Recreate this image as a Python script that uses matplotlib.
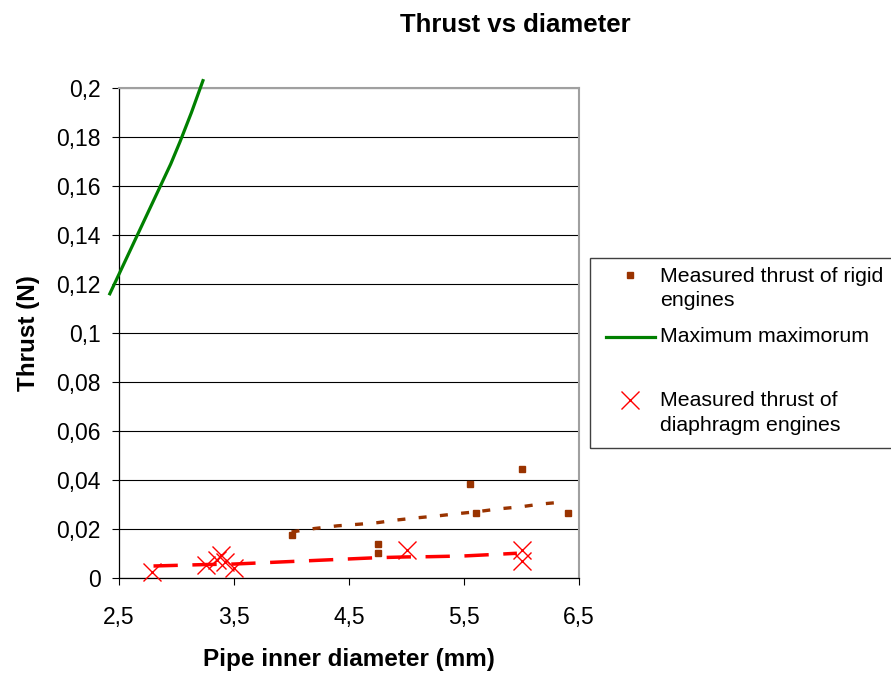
import matplotlib
matplotlib.use("Agg")
import matplotlib.pyplot as plt
from matplotlib.lines import Line2D
from matplotlib.patches import Rectangle
from matplotlib.ticker import FuncFormatter, FixedLocator, MultipleLocator

plt.rcParams["font.family"] = ["Liberation Sans", "DejaVu Sans"]

# ---------- data ----------
rigid_d = [4.0, 4.75, 4.75, 5.55, 5.6, 6.0, 6.4]
rigid_thrust = [0.0175, 0.0139, 0.0101, 0.0382, 0.0264, 0.0444, 0.0264]

rigid_trend_d = [4.0, 4.2, 4.4, 4.6, 4.75, 4.92, 5.1, 5.28, 5.45, 5.62, 5.8, 6.0, 6.17, 6.36]
rigid_trend_thrust = [0.0188, 0.0202, 0.0213, 0.0220, 0.0226, 0.0237, 0.0246,
                      0.0254, 0.0263, 0.0271, 0.0282, 0.0291, 0.0302, 0.0310]

diaphragm_d = [2.79, 3.26, 3.35, 3.39, 3.42, 3.5, 5.0, 6.0, 6.0]
diaphragm_thrust = [0.0024, 0.0055, 0.0075, 0.0092, 0.0064, 0.0041, 0.0114, 0.0114, 0.0071]

diaphragm_trend_d = [2.8, 3.26, 3.5, 4.75, 5.0, 5.2, 5.5, 5.8, 5.96]
diaphragm_trend_thrust = [0.0049, 0.0055, 0.0057, 0.0083, 0.0086, 0.0087, 0.0090, 0.0097, 0.0101]

max_d = [2.42, 2.53, 2.65, 2.75, 2.86, 2.95, 3.03, 3.13, 3.23]
max_thrust = [0.116, 0.127, 0.139, 0.149, 0.160, 0.169, 0.178, 0.190, 0.203]

x_ticks = [2.5, 3.5, 4.5, 5.5, 6.5]

W, H = 891, 674
BROWN = "#993300"
RED = "#FF0000"
GREEN = "#008000"

fig = plt.figure(figsize=(W / 100, H / 100), dpi=100)
ax = fig.add_axes([119 / W, 1 - 578 / H, 460 / W, 490 / H])

# grid lines behind the data
ax.set_axisbelow(True)
ax.yaxis.grid(True, color="black", linewidth=0.8)

# rigid engines + trend
ax.plot(rigid_trend_d, rigid_trend_thrust, color=BROWN, linewidth=2.4,
        linestyle=(0, (2.4, 4.0)), solid_capstyle="butt", zorder=3)
ax.plot(rigid_d, rigid_thrust, linestyle="none", marker="s", markersize=4.6,
        color=BROWN, zorder=4)

# diaphragm engines + trend
ax.plot(diaphragm_trend_d, diaphragm_trend_thrust, color=RED, linewidth=2.5,
        linestyle=(0, (7, 4.2)), zorder=3)
ax.plot(diaphragm_d, diaphragm_thrust, linestyle="none", marker="x",
        markersize=13, markeredgewidth=1.0, color=RED, zorder=4, clip_on=False)

# theoretical maximum
ax.plot(max_d, max_thrust, color=GREEN, linewidth=2.3, clip_on=False, zorder=5,
        solid_joinstyle="round")

ax.set_xlim(2.5, 6.5)
ax.set_ylim(0, 0.2)
ax.xaxis.set_major_locator(FixedLocator(x_ticks))
ax.yaxis.set_major_locator(MultipleLocator(0.02))
comma = FuncFormatter(lambda v, pos: f"{round(v, 4):g}".replace(".", ","))
ax.xaxis.set_major_formatter(comma)
ax.yaxis.set_major_formatter(comma)

ax.tick_params(axis="y", direction="out", length=5, width=0.8, labelsize=16.5, pad=8)
ax.tick_params(axis="x", direction="out", length=5, width=0.8, labelsize=16.5, pad=15)

for side in ("left", "bottom"):
    ax.spines[side].set_color("black")
    ax.spines[side].set_linewidth(0.9)
for side in ("top", "right"):
    ax.spines[side].set_color("#A0A0A0")
    ax.spines[side].set_linewidth(1.5)

ax.set_xlabel("Pipe inner diameter (mm)", fontsize=17.5, fontweight="bold")
ax.xaxis.set_label_coords(0.5, -0.143)
ax.set_ylabel("Thrust (N)", fontsize=17.5, fontweight="bold")
ax.yaxis.set_label_coords(-0.172, 0.5)

fig.text(515 / W, 1 - 25 / H, "Thrust vs diameter", fontsize=18.5,
         fontweight="bold", ha="center", va="center")


# ---------- legend (drawn by hand in pixel coordinates) ----------
def fx(px):
    return px / W


def fy(py):
    return 1 - py / H


fig.add_artist(Rectangle((fx(590), fy(448)), fx(310), 190 / H,
                         transform=fig.transFigure, fill=False,
                         edgecolor="#404040", linewidth=1.0))

fig.add_artist(Line2D([fx(630)], [fy(275)], transform=fig.transFigure,
                      linestyle="none", marker="s", markersize=4.6, color=BROWN))
fig.text(fx(660), fy(288.5), "Measured thrust of rigid\nengines", fontsize=15.3,
         ha="left", va="center", linespacing=1.38)

fig.add_artist(Line2D([fx(606), fx(655)], [fy(337), fy(337)],
                      transform=fig.transFigure, color=GREEN, linewidth=2.3))
fig.text(fx(660), fy(337), "Maximum maximorum", fontsize=15.3, ha="left", va="center")

fig.add_artist(Line2D([fx(630)], [fy(400)], transform=fig.transFigure,
                      linestyle="none", marker="x", markersize=13,
                      markeredgewidth=1.0, color=RED))
fig.text(fx(660), fy(413), "Measured thrust of\ndiaphragm engines", fontsize=15.3,
         ha="left", va="center", linespacing=1.38)

fig.savefig("out.png", dpi=100)
